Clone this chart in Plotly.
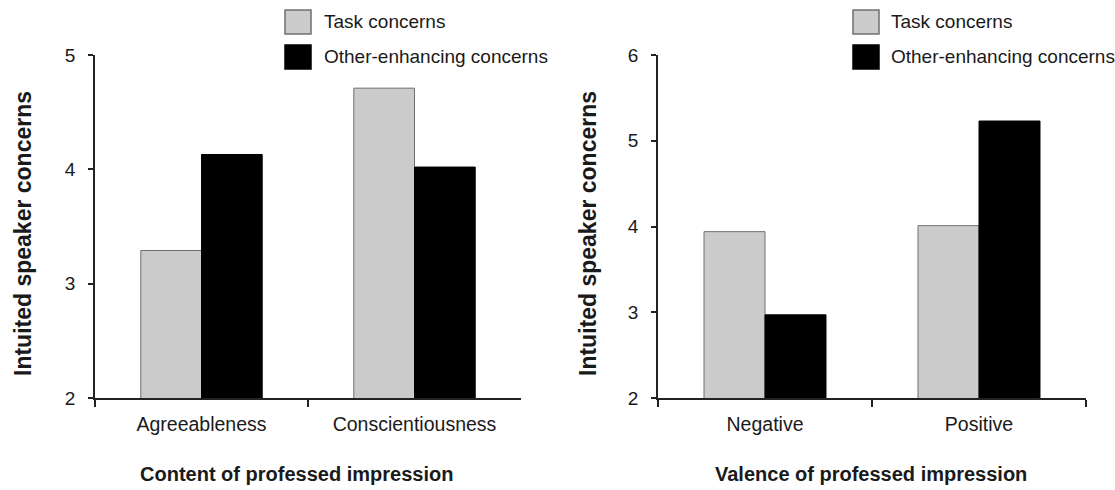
import plotly.graph_objects as go

# ---- data ----
series_names = ["Task concerns", "Other-enhancing concerns"]
content_categories = ["Agreeableness", "Conscientiousness"]
content_task = [3.29, 4.71]
content_other = [4.13, 4.02]
valence_categories = ["Negative", "Positive"]
valence_task = [3.94, 4.01]
valence_other = [2.97, 5.23]
left_yticks = [2, 3, 4, 5]
right_yticks = [2, 3, 4, 5, 6]
left_xtitle = "Content of professed impression"
right_xtitle = "Valence of professed impression"
ytitle = "Intuited speaker concerns"

W, H = 1115, 490
FONT = "Liberation Sans, Arial, sans-serif"
TXT = "#1a1a1a"
GRAY = "#cbcbcb"
GRAY_LINE = "#707070"
BLACK = "#000000"
AXIS = "#222222"


def px(x):
    return x / W


def py(y):
    return 1 - y / H


fig = go.Figure()

fig.add_trace(go.Bar(x=content_categories, y=content_task, name=series_names[0],
                     marker=dict(color=GRAY, line=dict(color=GRAY_LINE, width=1)),
                     xaxis="x", yaxis="y", showlegend=False))
fig.add_trace(go.Bar(x=content_categories, y=content_other, name=series_names[1],
                     marker=dict(color=BLACK, line=dict(color=BLACK, width=1)),
                     xaxis="x", yaxis="y", showlegend=False))
fig.add_trace(go.Bar(x=valence_categories, y=valence_task, name=series_names[0],
                     marker=dict(color=GRAY, line=dict(color=GRAY_LINE, width=1)),
                     xaxis="x2", yaxis="y2", showlegend=False))
fig.add_trace(go.Bar(x=valence_categories, y=valence_other, name=series_names[1],
                     marker=dict(color=BLACK, line=dict(color=BLACK, width=1)),
                     xaxis="x2", yaxis="y2", showlegend=False))

ydom = [py(398), py(55)]

xcommon = dict(type="category", range=[-0.5, 1.5], showline=True, linecolor=AXIS, linewidth=1.6,
               ticks="outside", tickson="boundaries", ticklen=7, tickwidth=1.6, tickcolor=AXIS,
               tickfont=dict(family=FONT, size=19.5, color=TXT), showgrid=False, zeroline=False,
               ticklabelstandoff=8, fixedrange=True, automargin=False)
ycommon = dict(showline=True, linecolor=AXIS, linewidth=1.6, ticks="outside", ticklen=5,
               tickwidth=1.6, tickcolor=AXIS, tickfont=dict(family=FONT, size=19, color=TXT),
               showgrid=False, zeroline=False, ticklabelstandoff=9, fixedrange=True,
               automargin=False)

fig.update_layout(
    width=W, height=H,
    margin=dict(l=0, r=0, t=0, b=0, pad=0, autoexpand=False),
    paper_bgcolor="white", plot_bgcolor="white",
    barmode="group", bargap=0.43, bargroupgap=0,
    showlegend=False,
    xaxis=dict(domain=[px(95), px(521)], anchor="y", **xcommon),
    yaxis=dict(domain=ydom, anchor="x", range=[2, 5], tickvals=left_yticks, **ycommon),
    xaxis2=dict(domain=[px(658), px(1086)], anchor="y2", **xcommon),
    yaxis2=dict(domain=ydom, anchor="x2", range=[2, 6], tickvals=right_yticks, **ycommon),
)

shapes = []
annotations = []

# legends (one per panel)
for box_x, text_x in [(285, 322), (853, 889)]:
    for (y0, y1), color, line_color, name in [((10, 34), GRAY, GRAY_LINE, series_names[0]),
                                              ((45, 69), BLACK, BLACK, series_names[1])]:
        shapes.append(dict(type="rect", xref="paper", yref="paper",
                           x0=px(box_x), x1=px(box_x + 26), y0=py(y1), y1=py(y0),
                           fillcolor=color, line=dict(color=line_color, width=1.5)))
        annotations.append(dict(text=name, xref="paper", yref="paper",
                                x=px(text_x), y=py((y0 + y1) / 2), xanchor="left", yanchor="middle",
                                showarrow=False, font=dict(family=FONT, size=19, color=TXT)))

# axis titles
for xc, title in [(296, left_xtitle), (871, right_xtitle)]:
    annotations.append(dict(text="<b>" + title + "</b>", xref="paper", yref="paper",
                            x=px(xc), y=py(474), xanchor="center", yanchor="middle",
                            showarrow=False, font=dict(family=FONT, size=20, color=TXT)))
for xc in [23, 588]:
    annotations.append(dict(text="<b>" + ytitle + "</b>", xref="paper", yref="paper",
                            x=px(xc), y=py(234), xanchor="center", yanchor="middle", textangle=-90,
                            showarrow=False, font=dict(family=FONT, size=23, color=TXT)))

fig.update_layout(shapes=shapes, annotations=annotations)

fig.write_html(
    "out.html",
    config={"displayModeBar": False},
    post_script=(
        "var d=document.getElementById('{plot_id}');"
        "d.style.position='absolute';d.style.top='0px';d.style.left='0px';"
        "document.documentElement.style.overflow='hidden';"
        "document.body.style.margin='0';document.body.style.overflow='hidden';"
    ),
)
